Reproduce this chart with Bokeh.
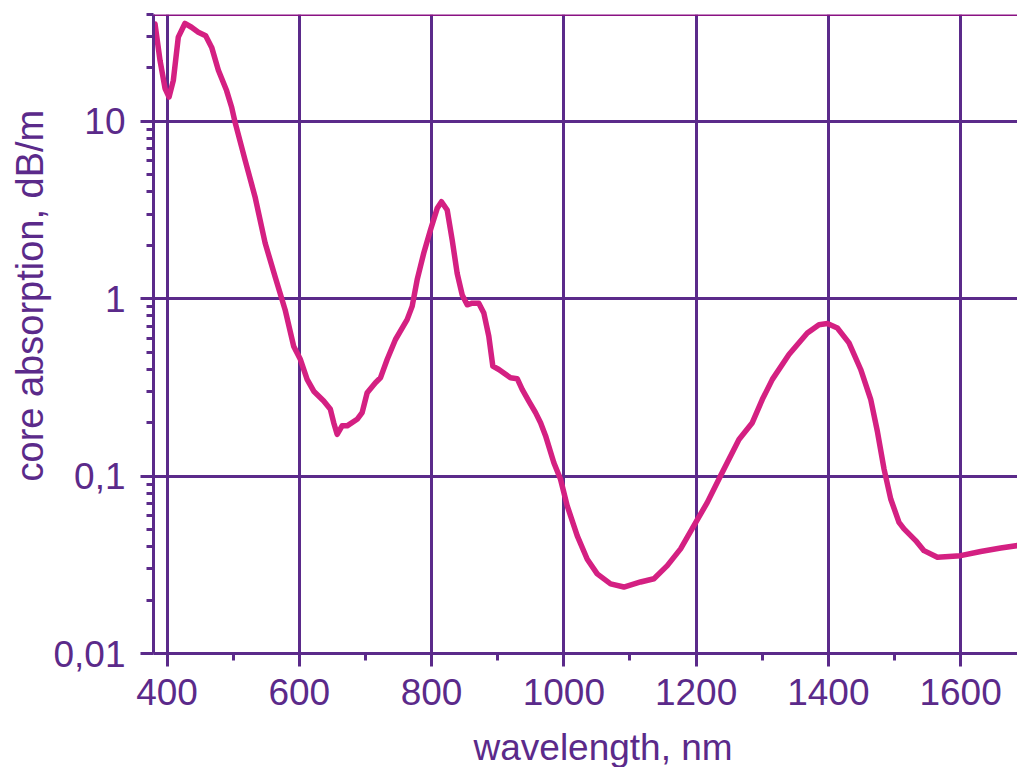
from bokeh.plotting import figure
from bokeh.models import Range1d, FixedTicker, Span, Title
from bokeh.embed import file_html
from bokeh.resources import INLINE

# ---- data ----
wavelength = [381.8, 389.4, 397, 403, 409.5, 417, 427, 437, 447.3, 458.4,
              467.5, 477.6, 490, 497.7, 502.8, 518, 533, 548.3, 563.4, 578.5,
              591.6, 601.7, 611.8, 621.8, 636.9, 647, 652, 657.2, 664.7, 672.3,
              687.4, 695, 702.6, 715.1, 722.7, 732.8, 745.4, 763, 770.6, 778.2,
              788.2, 798.3, 808.5, 815, 823.6, 831.2, 838.7, 846.3, 853.9, 861.4,
              871.4, 879, 886.5, 892.6, 901.7, 919.4, 929.5, 937, 947, 957.2,
              964.8, 972.3, 984.9, 995, 1005.1, 1020.3, 1035.4, 1050.5, 1070.7, 1090.8,
              1116, 1136.2, 1156.4, 1176.5, 1196.7, 1217, 1237, 1264.8, 1285, 1300.2,
              1315.3, 1340.4, 1368.2, 1385.8, 1398.5, 1413.6, 1431.2, 1448.9, 1464, 1474.2,
              1484.1, 1494.3, 1506.8, 1514.4, 1532, 1544.6, 1564.9, 1600, 1630.3, 1660.6,
              1686]
absorption = [35.4, 22, 15.3, 13.7, 17, 29.8, 35.6, 33.9, 31.8, 30.4,
              26.1, 19.4, 14.9, 12.0, 9.9, 6.04, 3.76, 2.06, 1.33, 0.867,
              0.537, 0.454, 0.351, 0.301, 0.265, 0.238, 0.200, 0.172, 0.192, 0.192,
              0.209, 0.228, 0.295, 0.336, 0.358, 0.454, 0.589, 0.762, 0.905, 1.28,
              1.81, 2.44, 3.23, 3.52, 3.16, 2.14, 1.39, 1.05, 0.924, 0.944,
              0.944, 0.831, 0.615, 0.417, 0.399, 0.358, 0.354, 0.308, 0.265, 0.228,
              0.200, 0.169, 0.119, 0.096, 0.068, 0.046, 0.034, 0.0281, 0.0247, 0.0237,
              0.0253, 0.0264, 0.0313, 0.0389, 0.0526, 0.0711, 0.1005, 0.161, 0.200, 0.271,
              0.351, 0.485, 0.641, 0.714, 0.724, 0.684, 0.564, 0.399, 0.271, 0.178,
              0.11, 0.0743, 0.0549, 0.0504, 0.0433, 0.038, 0.0349, 0.0356, 0.0376, 0.0393,
              0.0406]

x_ticks = [400, 600, 800, 1000, 1200, 1400, 1600]
x_minor_ticks = [500, 700, 900, 1100, 1300, 1500, 1700]
y_ticks = [0.01, 0.1, 1, 10]
y_tick_labels = ["0,01", "0,1", "1", "10"]
y_minor_ticks = [0.02, 0.03, 0.04, 0.05, 0.06, 0.07, 0.08, 0.09,
                 0.2, 0.3, 0.4, 0.5, 0.6, 0.7, 0.8, 0.9,
                 2, 3, 4, 5, 6, 7, 8, 9,
                 20, 30, 40]
x_title = "wavelength, nm"
y_title = "core absorption, dB/m"

PURPLE = "#5b2a8a"
TOPLINE = "#8a1283"
CURVE = "#d42082"
FONT = "Liberation Sans"

p = figure(width=1017, height=767, y_axis_type="log",
           x_range=Range1d(379.5, 1686), y_range=Range1d(0.01, 40),
           output_backend="svg", toolbar_location=None,
           min_border_left=153, min_border_right=0,
           min_border_top=14, min_border_bottom=112)
p.outline_line_color = None
p.background_fill_color = "white"
p.border_fill_color = "white"

p.xaxis.ticker = FixedTicker(ticks=x_ticks, minor_ticks=x_minor_ticks)
p.yaxis.ticker = FixedTicker(ticks=y_ticks, minor_ticks=y_minor_ticks)
p.yaxis.major_label_overrides = {t: s for t, s in zip(y_ticks, y_tick_labels)}

for ax in (p.xaxis[0], p.yaxis[0]):
    ax.axis_line_color = PURPLE
    ax.axis_line_width = 3
    ax.major_tick_line_color = PURPLE
    ax.major_tick_line_width = 3
    ax.major_tick_in = 0
    ax.major_tick_out = 13
    ax.minor_tick_line_color = PURPLE
    ax.minor_tick_line_width = 3
    ax.minor_tick_in = 0
    ax.minor_tick_out = 7
    ax.major_label_text_font = FONT
    ax.major_label_text_font_size = "37px"
    ax.major_label_text_color = PURPLE

p.xaxis.major_label_standoff = 12
p.yaxis.major_label_standoff = 15
# tiny blank axis label used only as a spacer above the x title
p.xaxis.axis_label = " "
p.xaxis.axis_label_text_font_size = "1px"
p.xaxis.axis_label_standoff = 13

p.xgrid.grid_line_color = PURPLE
p.xgrid.grid_line_width = 3
p.ygrid.grid_line_color = PURPLE
p.ygrid.grid_line_width = 3

p.add_layout(Span(location=40, dimension="width", line_color=TOPLINE, line_width=3))

p.line(wavelength, absorption, line_color=CURVE, line_width=5.5,
       line_join="round", line_cap="round")

p.add_layout(Title(text=x_title, align="left", offset=320, standoff=0,
                   text_font=FONT, text_font_size="37px",
                   text_font_style="normal", text_color=PURPLE), "below")
p.add_layout(Title(text=y_title, align="left", offset=172, standoff=0,
                   text_font=FONT, text_font_size="38px",
                   text_font_style="normal", text_color=PURPLE), "left")

open("out.html", "w").write(file_html(p, INLINE))
